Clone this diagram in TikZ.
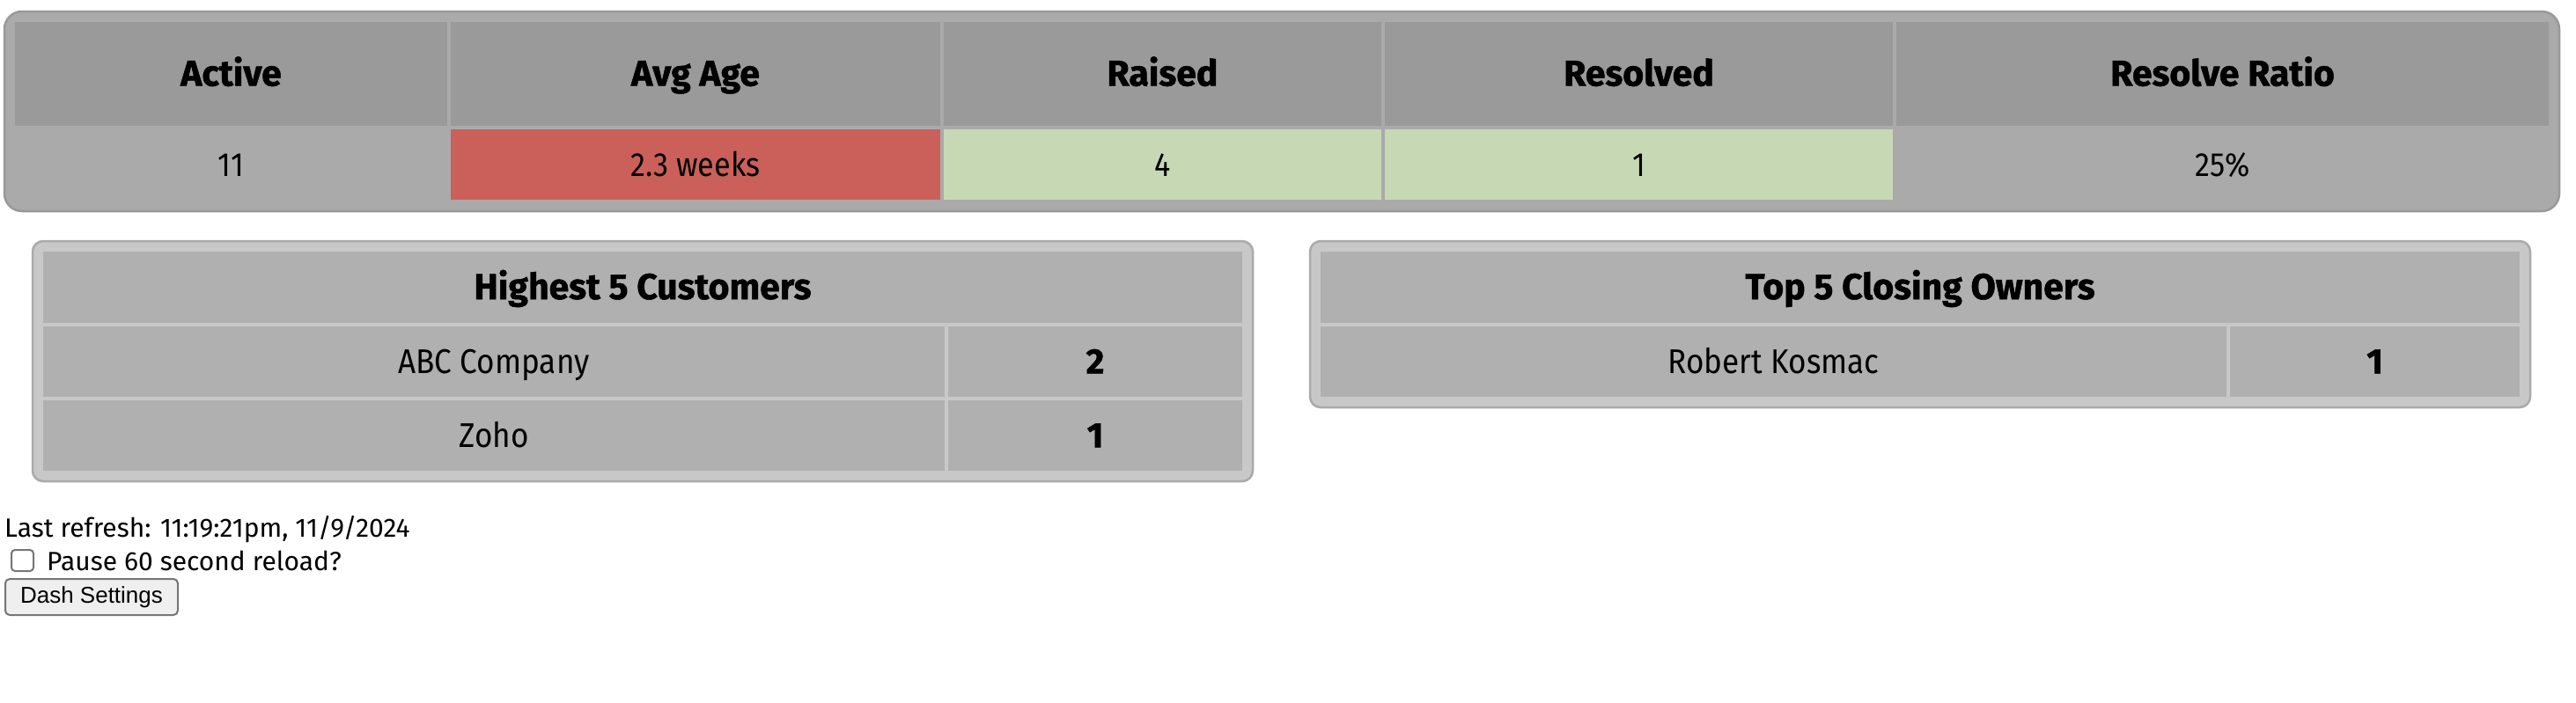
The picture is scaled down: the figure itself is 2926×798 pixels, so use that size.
\documentclass[tikz,border=0pt]{standalone}
\usepackage{fontspec}
\newfontfamily\lightf{Fira Sans}[FakeStretch=0.9]
\newfontfamily\hdrfam{Fira Sans}[BoldFeatures={FakeBold=1.2}]
\newcommand{\boldf}{\hdrfam\bfseries}
\newfontfamily\regf{Fira Sans}
\newfontfamily\arialf{Liberation Sans}
\definecolor{boxgray}{HTML}{AAAAAA}
\definecolor{boxedge}{HTML}{999999}
\definecolor{hdrgray}{HTML}{9A9A9A}
\definecolor{redcell}{HTML}{CB605A}
\definecolor{greencell}{HTML}{C7D9B4}
\definecolor{lowbox}{HTML}{C8C8C8}
\definecolor{lowedge}{HTML}{AAAAAA}
\definecolor{lowcell}{HTML}{B0B0B0}
\definecolor{ctrledge}{HTML}{767676}
\definecolor{btnfill}{HTML}{EFEFEF}
\tikzset{
  cellbase/.style={anchor=north west, inner sep=0pt, outer sep=0pt, align=center, text=black,
                   text height=27pt, text depth=0pt},
  topbox/.style={fill=boxgray, draw=boxedge, line width=2.5pt, rounded corners=20pt},
  lowbox/.style={fill=lowbox, draw=lowedge, line width=2.5pt, rounded corners=12pt},
  hdrcell/.style={cellbase, fill=hdrgray, minimum height=118pt, font=\boldf\fontsize{41}{46}\selectfont},
  datcell/.style={cellbase, minimum height=80pt, font=\lightf\fontsize{38}{44}\selectfont},
  lhdr/.style={cellbase, fill=lowcell, minimum height=81pt, font=\boldf\fontsize{41}{46}\selectfont},
  lname/.style={cellbase, fill=lowcell, minimum height=80pt, font=\lightf\fontsize{39}{44}\selectfont},
  lval/.style={cellbase, fill=lowcell, minimum height=80pt, font=\boldf\fontsize{40}{44}\selectfont},
  foot/.style={anchor=base west, inner sep=0pt, font=\regf\fontsize{30}{34}\selectfont},
}
\begin{document}
\begin{tikzpicture}[x=1pt, y=-1pt]
\path[use as bounding box, fill=white] (0,0) rectangle (2926,798);
% top summary box
\draw[topbox] (5,13) rectangle (2907,240);
\node[hdrcell, minimum width=491pt] (hActive) at (17,25) {Active};
\node[hdrcell, minimum width=556pt] (hAvg) at (512,25) {Avg Age};
\node[hdrcell, minimum width=497pt] (hRaised) at (1072,25) {Raised};
\node[hdrcell, minimum width=577pt] (hResolved) at (1573,25) {Resolved};
\node[hdrcell, minimum width=741pt] (hRatio) at (2154,25) {Resolve Ratio};
\node[datcell, minimum width=491pt] (dActive) at (17,147) {11};
\node[datcell, fill=redcell, minimum width=556pt] (dAvg) at (512,147) {2.3 weeks};
\node[datcell, fill=greencell, minimum width=497pt] (dRaised) at (1072,147) {4};
\node[datcell, fill=greencell, minimum width=577pt] (dResolved) at (1573,147) {1};
\node[datcell, minimum width=741pt] (dRatio) at (2154,147) {25\%};
% left lower table
\draw[lowbox] (37,274) rectangle (1423,547);
\node[lhdr, minimum width=1362pt] (custH) at (49,286) {Highest 5 Customers};
\node[lname, minimum width=1024pt] (cust1) at (49,371) {ABC Company};
\node[lval, minimum width=334pt] (cust1v) at (1077,371) {2};
\node[lname, minimum width=1024pt] (cust2) at (49,455) {Zoho};
\node[lval, minimum width=334pt] (cust2v) at (1077,455) {1};
% right lower table
\draw[lowbox] (1488,274) rectangle (2874,463);
\node[lhdr, minimum width=1362pt] (ownH) at (1500,286) {Top 5 Closing Owners};
\node[lname, minimum width=1029pt] (own1) at (1500,371) {Robert Kosmac};
\node[lval, minimum width=329pt] (own1v) at (2533,371) {1};
% footer
\node[foot] (refresh) at (5,610) {Last refresh: 11:19:21pm, 11/9/2024};
\node[anchor=north west, draw=ctrledge, fill=white, line width=2pt, rounded corners=4pt,
      minimum width=25pt, minimum height=24pt, inner sep=0pt] (chk) at (12,624) {};
\node[foot] (pause) at (53,648) {Pause 60 second reload?};
\node[anchor=north west, draw=ctrledge, fill=btnfill, line width=2pt, rounded corners=5pt,
      minimum width=196pt, minimum height=41pt, inner sep=0pt,
      font=\arialf\fontsize{26}{30}\selectfont] (btn) at (5,657) {Dash Settings};
\end{tikzpicture}
\end{document}
